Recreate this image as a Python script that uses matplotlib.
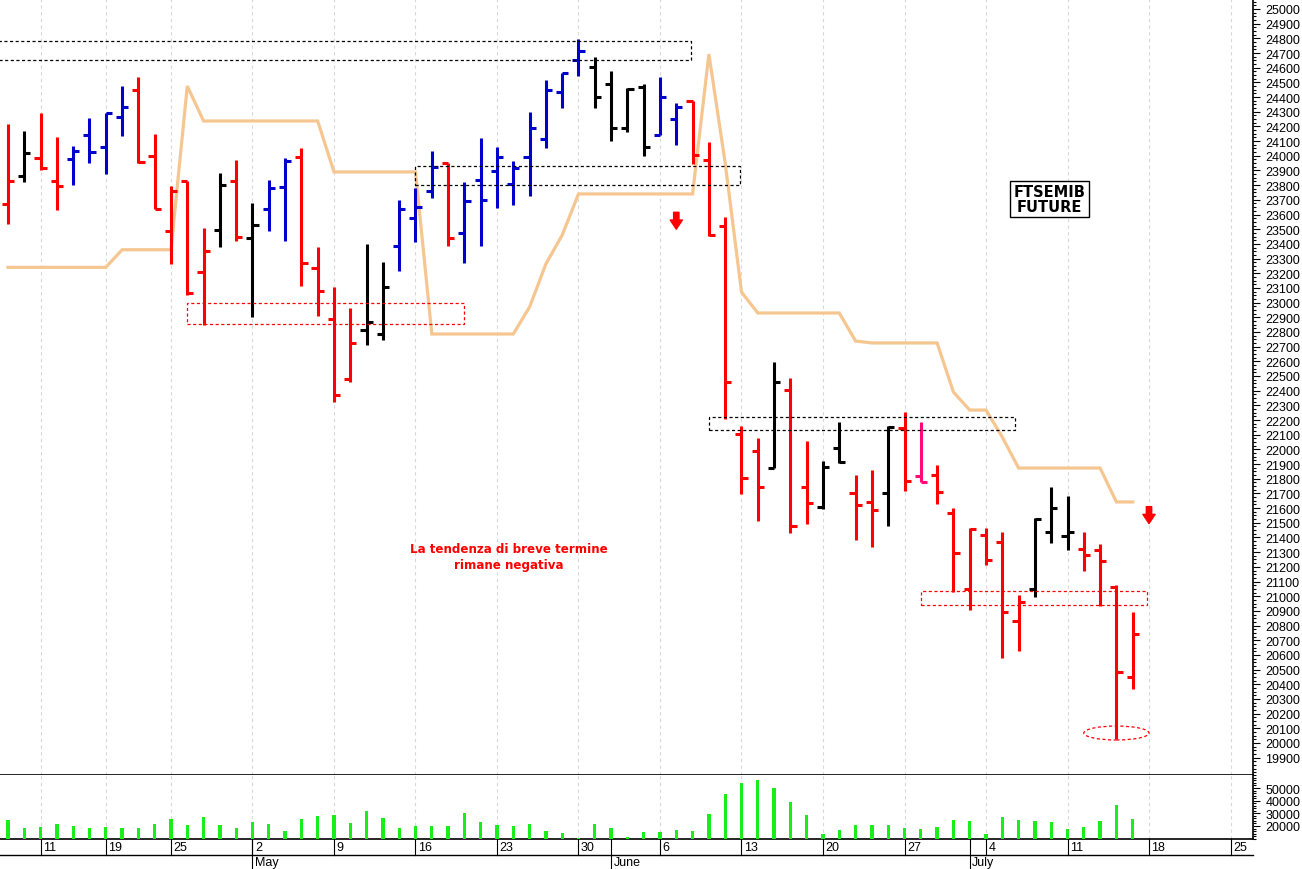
import numpy as np
import pandas as pd
import matplotlib
matplotlib.use('Agg')
import matplotlib.pyplot as plt
import matplotlib.transforms as mtransforms
from matplotlib.patches import Rectangle, Ellipse
from matplotlib.ticker import MultipleLocator

plt.rcParams['font.family'] = ['Liberation Sans', 'DejaVu Sans']

# trading days (Borsa Italiana closed on Good Friday and Easter Monday)
holidays = ['2022-04-15', '2022-04-18']
days = pd.bdate_range('2022-04-07', '2022-07-27')
days = days[~days.isin(pd.to_datetime(holidays))]

opens = [23672, 23862, 23985, 23828, 23978, 24142, 24060, 24264, 24448, 23999,
         23488, 23828, 23208, 23495, 23828, 23440, 23638, 23787, 23992, 23236,
         22888, 22480, 22813, 22786, 23386, 23576, 23760, 23951, 23474, 23835,
         23896, 23808, 23992, 24114, 24435, 24653, 24605, 24489, 24189, 24469,
         24142, 24251, 24373, 23971, 23522, 22105, 21989, 21873, 22405, 21744,
         21608, 22010, 21703, 21642, 21703, 22146, 21819, 21826, 21567, 21049,
         21417, 21369, 20831, 21049, 21437, 21410, 21322, 21315, 21063, 20450]
highs = [24217, 24169, 24292, 24128, 24067, 24257, 24292, 24475, 24537, 24149,
         23794, 23828, 23508, 23883, 23971, 23678, 23835, 23985, 24053, 23379,
         23106, 22963, 23399, 23277, 23699, 23781, 24033, 23951, 23822, 24121,
         24060, 23965, 24298, 24516, 24564, 24796, 24673, 24578, 24462, 24489,
         24537, 24360, 24373, 24094, 23583, 22159, 22078, 22595, 22486, 22057,
         21921, 22187, 21826, 21860, 22159, 22255, 22187, 21894, 21601, 21465,
         21465, 21437, 21008, 21533, 21744, 21683, 21437, 21356, 21076, 20892]
lows = [23535, 23822, 23903, 23631, 23801, 23951, 23876, 24135, 23951, 23638,
        23263, 23052, 22847, 23379, 23420, 22902, 23488, 23420, 23113, 22909,
        22323, 22459, 22711, 22745, 23215, 23413, 23713, 23386, 23270, 23386,
        23644, 23665, 23726, 24053, 24326, 24544, 24326, 24101, 24162, 23999,
        24142, 24074, 23944, 23454, 22207, 21696, 21512, 21873, 21430, 21492,
        21594, 21907, 21383, 21335, 21478, 21717, 21778, 21628, 21029, 20906,
        21213, 20579, 20627, 20995, 21362, 21315, 21172, 20933, 20027, 20368]
closes = [23828, 24019, 23917, 23794, 24033, 24026, 24292, 24332, 23958, 23638,
          23760, 23065, 23352, 23801, 23447, 23529, 23781, 23965, 23270, 23079,
          22371, 22725, 22868, 23106, 23638, 23651, 23924, 23440, 23692, 23699,
          23992, 23917, 24189, 24448, 24564, 24714, 24401, 24189, 24455, 24060,
          24401, 24332, 24005, 23460, 22459, 21805, 21744, 22459, 21478, 21635,
          21880, 21914, 21621, 21587, 22153, 21785, 21778, 21710, 21294, 21458,
          21247, 20892, 20960, 21526, 21601, 21437, 21281, 21240, 20484, 20743]
# r = red, k = black, b = blue, p = pink
bar_codes = ('rkrrbbbbrr' 'rrrkrkbbrr' 'rrkkbbbrbb' 'bbbbbbkkkk'
             'bbrrrrrkrr' 'kkrrkrprrr' 'rrrkkkrrrr')

stop_line = [23240, 23240, 23240, 23240, 23240, 23240, 23240, 23360, 23360, 23360,
             23360, 24475, 24237, 24237, 24237, 24237, 24237, 24237, 24237, 24237,
             23890, 23890, 23890, 23890, 23890, 23890, 22786, 22786, 22786, 22786,
             22786, 22786, 22970, 23263, 23460, 23740, 23740, 23740, 23740, 23740,
             23740, 23740, 23740, 24693, 23950, 23072, 22929, 22929, 22929, 22929,
             22929, 22929, 22738, 22725, 22725, 22725, 22725, 22725, 22391, 22268,
             22268, 22084, 21873, 21873, 21873, 21873, 21873, 21873, 21642, 21642]

volume = [24700, 18400, 19200, 21600, 20000, 18400, 19200, 18400, 18400, 21600,
          25500, 20800, 27100, 20800, 18400, 23200, 21600, 16100, 25500, 27900,
          28700, 22400, 31800, 26300, 18400, 20000, 20000, 20000, 30300, 23200,
          20800, 20000, 21600, 16100, 14500, 10500, 21600, 18400, 11300, 15300,
          15300, 16800, 16100, 29500, 45200, 53900, 56300, 50000, 38900, 28700,
          13700, 16800, 20800, 20800, 20800, 18400, 17600, 19200, 24700, 23900,
          13700, 27100, 24700, 23900, 23200, 17600, 19200, 23900, 36600, 25500]

# zones: start index, end index, low, high, colour
zones = [(-1.0, 41.9, 24653, 24782, 'black'),
         (25.0, 44.9, 23801, 23930, 'black'),
         (11.0, 28.0, 22854, 22997, 'red'),
         (43.0, 61.8, 22132, 22221, 'black'),
         (56.0, 69.9, 20940, 21035, 'red')]

palette = {'r': '#ff0000', 'k': '#000000', 'b': '#0000cc', 'p': '#ff0a78'}
colors = [palette[c] for c in bar_codes]
x = np.arange(len(opens))

fig = plt.figure(figsize=(13.02, 8.70), dpi=100)
ax = fig.add_axes([0, 94 / 870, 1253 / 1302, 776 / 870])
axv = fig.add_axes([0, 30 / 870, 1253 / 1302, 64 / 870], sharex=ax)

xmin, xmax = -0.49, 76.38
ax.set_xlim(xmin, xmax)
ax.set_ylim(19782, 25068)
axv.set_ylim(9700, 60300)

# week ticks and month starts from the calendar
week = days.isocalendar().week.values
week_idx = [i for i in range(1, len(days)) if week[i] != week[i - 1] and i <= xmax]
month_idx = [i for i in range(1, len(days)) if days[i].month != days[i - 1].month]

for a in (ax, axv):
    for i in week_idx:
        a.axvline(i, color='#d8d8d8', lw=0.8, ls=(0, (3, 3)), zorder=0)
    for s in ('left', 'top'):
        a.spines[s].set_visible(False)
    a.spines['right'].set_linewidth(1.2)
    a.spines['bottom'].set_linewidth(1.2)
    a.spines['bottom'].set_color('black')
    a.yaxis.tick_right()
    a.tick_params(axis='y', which='major', direction='out', length=5, width=0.8,
                  pad=4, labelsize=9)
    a.tick_params(axis='y', which='minor', direction='out', length=2.5, width=0.8)
    a.tick_params(axis='x', which='both', bottom=False, labelbottom=False)

ax.set_yticks(np.arange(19900, 25001, 100))
ax.yaxis.set_minor_locator(MultipleLocator(25))
axv.set_yticks([20000, 30000, 40000, 50000])
axv.yaxis.set_minor_locator(MultipleLocator(2000))

# stop line
ax.plot(x, stop_line, color='#f6c691', lw=2.3, zorder=2, solid_joinstyle='miter')

# OHLC bars
ax.vlines(x, lows, highs, colors=colors, lw=2.2, zorder=3)
ax.hlines(opens, x - 0.38, x, colors=colors, lw=2.2, zorder=3)
ax.hlines(closes, x, x + 0.38, colors=colors, lw=2.2, zorder=3)

for x0, x1, lo, hi, c in zones:
    ax.add_patch(Rectangle((x0, lo), x1 - x0, hi - lo, fill=False, ec=c, lw=0.9,
                           ls=(0, (2.5, 2)), zorder=4))
ax.add_patch(Ellipse((68, 20068), 4.0, 95, fill=False, ec='red', lw=0.9,
                     ls=(0, (2.5, 2)), zorder=4))

for ax_i, top, bot in [(41, 23615, 23500), (70, 21610, 21495)]:
    ax.annotate('', xy=(ax_i, bot), xytext=(ax_i, top),
                arrowprops=dict(arrowstyle='simple,head_length=0.6,head_width=0.8,tail_width=0.35',
                                color='#ff0000', shrinkA=0, shrinkB=0, mutation_scale=11))

ax.text(30.7, 21270, 'La tendenza di breve termine\nrimane negativa', color='#ff0000',
        fontsize=8.6, fontweight='bold', family='DejaVu Sans', ha='center', va='center',
        multialignment='center', linespacing=1.35)
ax.text(63.9, 23706, 'FTSEMIB\nFUTURE', fontsize=10.5, fontweight='bold',
        family='DejaVu Sans', ha='center', va='center', linespacing=1.0,
        bbox=dict(boxstyle='square,pad=0.22', fc='white', ec='black', lw=1), zorder=5)

# volume
axv.bar(x, volume, width=0.2, color='#1aee1a', zorder=3)

# date axis rows under the volume panel
blend = mtransforms.blended_transform_factory(axv.transData, axv.transAxes)
row1, row2 = -16 / 64, -30 / 64
axv.plot([0, 1], [row1, row1], transform=axv.transAxes, color='black', lw=1, clip_on=False)
for i in week_idx:
    axv.plot([i, i], [0, row1], transform=blend, color='black', lw=0.8, clip_on=False)
    axv.text(i + 0.15, row1 / 2, str(days[i].day), transform=blend, fontsize=9,
             ha='left', va='center')
for i in month_idx:
    axv.plot([i, i], [0, row2], transform=blend, color='black', lw=0.8, clip_on=False)
    axv.text(i + 0.15, (row1 + row2) / 2, days[i].strftime('%B'), transform=blend,
             fontsize=9, ha='left', va='center')

fig.savefig('out.png', dpi=100)
